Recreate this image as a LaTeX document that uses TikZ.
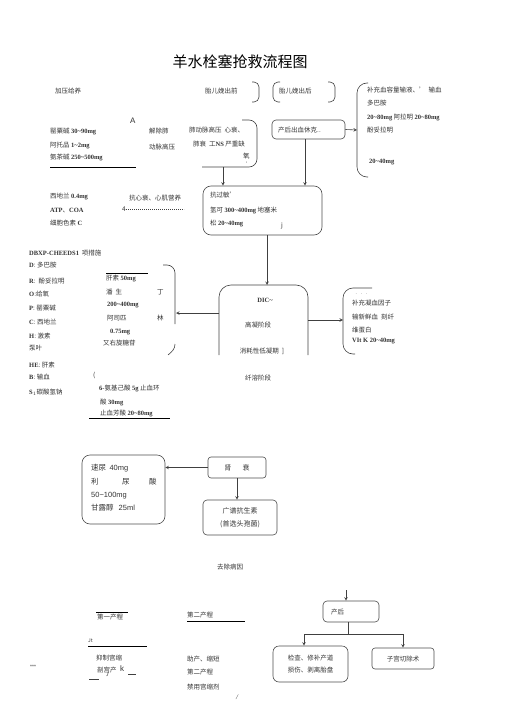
\documentclass[tikz,border=0pt]{standalone}
\usepackage{fontspec}
\setmainfont{Noto Sans CJK SC}
\newfontfamily\latb{Liberation Serif}
\newfontfamily\lats{Liberation Sans}
\usetikzlibrary{arrows}
\newcommand{\dose}[1]{{\latb\bfseries #1}}
\newcommand{\plain}[1]{{\lats #1}}

\begin{document}
\begin{tikzpicture}[x=1pt, y=-1pt,
    txt/.style={anchor=west, inner sep=0pt, text=black!80, font=\fontsize{6.5}{7}\selectfont},
    mid/.style={txt, anchor=center},
    box/.style={draw=black!70, line width=0.6pt, rounded corners=5pt, inner sep=0pt},
    link/.style={draw=black!75, line width=0.6pt},
    arrow/.style={link, ->, >=stealth},
    hline/.style={draw=black, line width=0.7pt}
]
    \useasboundingbox (0,0) rectangle (505,714);

    % Title
    \node[font=\fontsize{15}{16}\selectfont] (title) at (240,62) {羊水栓塞抢救流程图};

    % Top row
    \node[txt] (jiaya) at (55,91) {加压给养};
    \node[txt] (before) at (205,91) {胎儿娩出前};
    \draw[link, rounded corners=5pt] (252,82) -| (259,102) -- (252,102);
    \node[txt] (after) at (279,91) {胎儿娩出后};
    \draw[link, rounded corners=5pt] (280,82) -| (273,102) -- (280,102);
    \draw[link, rounded corners=5pt] (328,82) -| (335,102) -- (328,102);

    % Pulmonary hypertension
    \node[txt, font=\fontsize{8}{8}\selectfont\lats] (mark) at (130,121) {A};
    \node[txt] (ying) at (50,131) {罂粟碱 \dose{30\textasciitilde90mg}};
    \node[txt] (atuo) at (50,145) {阿托品 \dose{1\textasciitilde2mg}};
    \node[txt] (anch) at (50,157) {氨茶碱 \dose{250\textasciitilde500mg}};
    \draw[hline] (50,167) -- (136,167);
    \node[txt] (jie1) at (149,131) {解除肺};
    \node[txt] (jie2) at (149,147) {动脉高压};
    \node[txt] (fei1) at (189,130) {肺动脉高压\ \ 心衰、};
    \node[txt] (fei2) at (193,144) {肺衰\ \ 工\dose{NS} 严重缺};
    \node[txt] (fei3) at (243,156) {氧};
    \node[txt, font=\fontsize{4.5}{5}\selectfont] (fei4) at (246,163) {,};
    \draw[link, rounded corners=8pt] (242,120) -| (257,167) -- (202,167);
    \coordinate (feiB) at (223,167);

    % Shock
    \node[box, rounded corners=4pt, minimum width=73pt, minimum height=19pt] (shock) at (308.5,129.5) {};
    \node[txt] (shockT) at (278,130) {产后出血休克..};
    \coordinate (braceM) at (357,130);
    \draw[arrow] (shock.east) -- (braceM);
    \draw[link, rounded corners=10pt] (368,83) -| (357,177) -- (368,177);
    \node[txt] (bu1) at (367,90) {补充血容量输液、'\ \ 输血};
    \node[txt] (bu2) at (367,103) {多巴胺};
    \node[txt] (bu3) at (367,117) {\dose{20\textasciitilde80mg} 阿拉明 \dose{20\textasciitilde80mg}};
    \node[txt] (bu4) at (367,130) {酚妥拉明};
    \node[txt] (bu5) at (369,162) {\dose{20\textasciitilde40mg}};

    % Heart failure
    \node[txt] (xidi) at (50,196) {西地兰 \dose{0.4mg}};
    \node[txt] (atp) at (50,211) {\dose{ATP}、\dose{COA}};
    \node[txt] (xibao) at (50,223) {细胞色素 \dose{C}};
    \node[txt] (kxs) at (129,198) {抗心衰、心肌营养};
    \node[txt] (four) at (122,209) {4};
    \draw[link, line width=0.4pt, dash pattern=on 1.2pt off 0.8pt] (126,209) -- (184,209);

    % Anti-allergy
    \node[box, rounded corners=8pt, minimum width=119pt, minimum height=49pt] (kang) at (262.5,210.5) {};
    \node[txt] (k1) at (210,195) {抗过敏'};
    \node[txt] (k2) at (210,210) {氢可 \dose{300\textasciitilde400mg} 地塞米};
    \node[txt] (k3) at (210,223) {松 \dose{20\textasciitilde40mg}};
    \node[txt] (k4) at (281,226) {j};
    \draw[arrow] (feiB) -- (feiB |- kang.north);
    \draw[arrow] ([xshift=-3.5pt]shock.south) -- ([xshift=-3.5pt]shock.south |- kang.north);

    % DIC
    \coordinate (dicTop) at (267,285);
    \draw[link, rounded corners=12pt] (219,355) |- (263,285) -| (308,355);
    \draw[arrow] (kang.south -| dicTop) -- (dicTop);
    \node[mid, font=\fontsize{6.5}{7}\selectfont\latb\bfseries] (dic) at (265,300) {DIC\textasciitilde};
    \node[mid] (gao) at (258,325) {高凝阶段};
    \node[mid] (xiao) at (262,351) {消耗性低凝期\ \ ]};
    \node[mid] (xian) at (258,378) {纤溶阶段};

    % Heparin list
    \coordinate (dicL) at (219,313);
    \coordinate (hepR) at (176,313);
    \draw[arrow] (dicL) -- (hepR);
    \draw[link, rounded corners=8pt] (163,265) -| (175,324);
    \draw[link] (175,344) to[out=-90, in=40] (168,355);
    \draw[hline] (106,273) -- (148,273);
    \node[txt] (h1) at (106,278) {肝素 \dose{50mg}};
    \node[txt] (h2) at (106,292) {潘\ \ 生};
    \node[txt] (h2b) at (157,292) {丁};
    \node[txt] (h3) at (107,305) {\dose{200\textasciitilde400mg}};
    \node[txt] (h4) at (107,318) {阿司匹};
    \node[txt] (h4b) at (157,318) {林};
    \node[txt] (h5) at (110,332) {\dose{0.75mg}};
    \node[txt] (h6) at (103,343) {又右旋糖苷};
    \node[txt] (h7) at (93,375) {(};
    \node[txt] (h8) at (99,388) {\dose{6-}氨基己酸 \dose{5g} 止血环};
    \node[txt] (h9) at (100,402) {酸 \dose{30mg}};
    \node[txt] (h10) at (100,413) {止血芳酸 \dose{20\textasciitilde80mg}};
    \draw[hline] (89,418) -- (170,418);

    % Clotting factors
    \coordinate (dicR) at (308,320);
    \coordinate (factL) at (343,320);
    \draw[arrow] (dicR) -- (factL);
    \draw[link, rounded corners=10pt] (372,288) -| (343,354) -- (355,354);
    \node[txt, font=\tiny] (dots) at (355,294) {$\cdot\ \cdot\ \cdot$};
    \node[txt] (f1) at (352,303) {补充凝血因子};
    \node[txt] (f2) at (352,317) {输新鲜血\ \ 刻纤};
    \node[txt] (f3) at (352,330) {维蛋白};
    \node[txt] (f4) at (352,341) {\dose{VIt K 20\textasciitilde40mg}};

    % Measures list
    \node[txt] (drop) at (29,253) {\dose{DBXP-CHEEDS1}\ \ 项措施};
    \node[txt] (m1) at (29,265) {\dose{D}: 多巴胺};
    \node[txt] (m2) at (29,281) {\dose{R}:\ \ 酚妥拉明};
    \node[txt] (m3) at (29,294) {\dose{O}:给氧};
    \node[txt] (m4) at (29,308) {\dose{P}: 罂粟碱};
    \node[txt] (m5) at (29,322) {\dose{C}: 西地兰};
    \node[txt] (m6) at (29,336) {\dose{H}: 激素};
    \node[txt] (m7) at (29,348) {泵叶};
    \node[txt] (m8) at (29,365) {\dose{HE}: 肝素};
    \node[txt] (m9) at (29,377) {\dose{B}: 输血};
    \node[txt] (m10) at (29,392) {\dose{S}$_1$碳酸氢钠};

    % Renal failure
    \node[box, rounded corners=8pt, minimum width=83pt, minimum height=69pt] (suniao) at (123.5,489.5) {};
    \node[txt, font=\fontsize{7.5}{8}\selectfont] (s1) at (91,468) {速尿\ \ \plain{40mg}};
    \node[txt, font=\fontsize{7.5}{8}\selectfont] (s2) at (91,482) {利};
    \node[txt, font=\fontsize{7.5}{8}\selectfont] (s3) at (122,482) {尿};
    \node[txt, font=\fontsize{7.5}{8}\selectfont] (s4) at (149,482) {酸};
    \node[txt, font=\fontsize{7.5}{8}\selectfont] (s5) at (91,496) {\plain{50\textasciitilde100mg}};
    \node[txt, font=\fontsize{7.5}{8}\selectfont] (s6) at (91,508) {甘露醇\ \ \ \plain{25ml}};
    \node[box, rounded corners=3pt, minimum width=58pt, minimum height=21pt, font=\fontsize{7}{8}\selectfont, text=black!80] (shen) at (237,467.5) {肾\hspace{1.6em}衰};
    \node[box, rounded corners=4pt, minimum width=74pt, minimum height=35pt, align=center, font=\fontsize{7}{13}\selectfont, text=black!80] (guang) at (240,517.5) {广谱抗生素\\(首选头孢菌)};
    \draw[arrow] (shen.west) -- (shen.west -| suniao.east);
    \draw[arrow] (shen.south) -- (shen.south |- guang.north);
    \node[txt] (qu) at (217,567) {去除病因};

    % Labour stages
    \draw[hline] (96,612) -- (128,612);
    \node[txt] (st1) at (97,617) {第一产程};
    \node[txt] (st2) at (187,615) {第二产程};
    \draw[hline] (187,621) -- (245,621);
    \node[txt, font=\fontsize{5}{5}\selectfont] (jt) at (88,641) {Jt};
    \draw[hline] (88,646) -- (147,646);
    \node[txt] (yi) at (96,658) {抑制宫缩};
    \node[txt] (pou) at (97,670) {剖宫产};
    \node[txt, font=\fontsize{8}{8}\selectfont\lats] (kk) at (120,669) {k};
    \node[txt, font=\fontsize{6}{6}\selectfont\itshape\latb] (jj) at (106,675) {J};
    \draw[link] (128,674) -- (136,674);
    \draw[link] (89,679) -- (99,679);
    \node[txt, font=\fontsize{5}{5}\selectfont\lats] (stars) at (30,667) {***};
    \node[txt] (zhu) at (187,659) {助产、缩短};
    \node[txt] (di2) at (187,672) {第二产程};
    \node[txt] (jin) at (187,687) {禁用宫缩剂};
    \node[txt, font=\fontsize{7}{7}\selectfont\itshape\latb] (slash) at (236,697) {/};

    % After delivery
    \coordinate (quDown) at (346,590);
    \node[box, rounded corners=4pt, minimum width=56pt, minimum height=21pt] (chanhou) at (351,611.5) {};
    \node[txt] (chT) at (331,612) {产后};
    \node[box, rounded corners=6pt, minimum width=75pt, minimum height=36pt, align=left, font=\fontsize{6.5}{12.5}\selectfont, text=black!80] (jiancha) at (310.5,664) {检查、修补产道\\损伤、剥离胎盘};
    \node[box, rounded corners=3pt, minimum width=62pt, minimum height=21pt, font=\fontsize{6.5}{7}\selectfont, text=black!80] (qiechu) at (403,658.5) {子宫切除术};
    \draw[arrow] (quDown) -- (quDown |- chanhou.north);
    \draw[link] ([xshift=-3pt]chanhou.south) -- ++(0,12) coordinate (fork);
    \draw[arrow] (fork) -| ([xshift=-6.5pt]jiancha.north);
    \draw[arrow] (fork) -| (qiechu.north);
\end{tikzpicture}
\end{document}
